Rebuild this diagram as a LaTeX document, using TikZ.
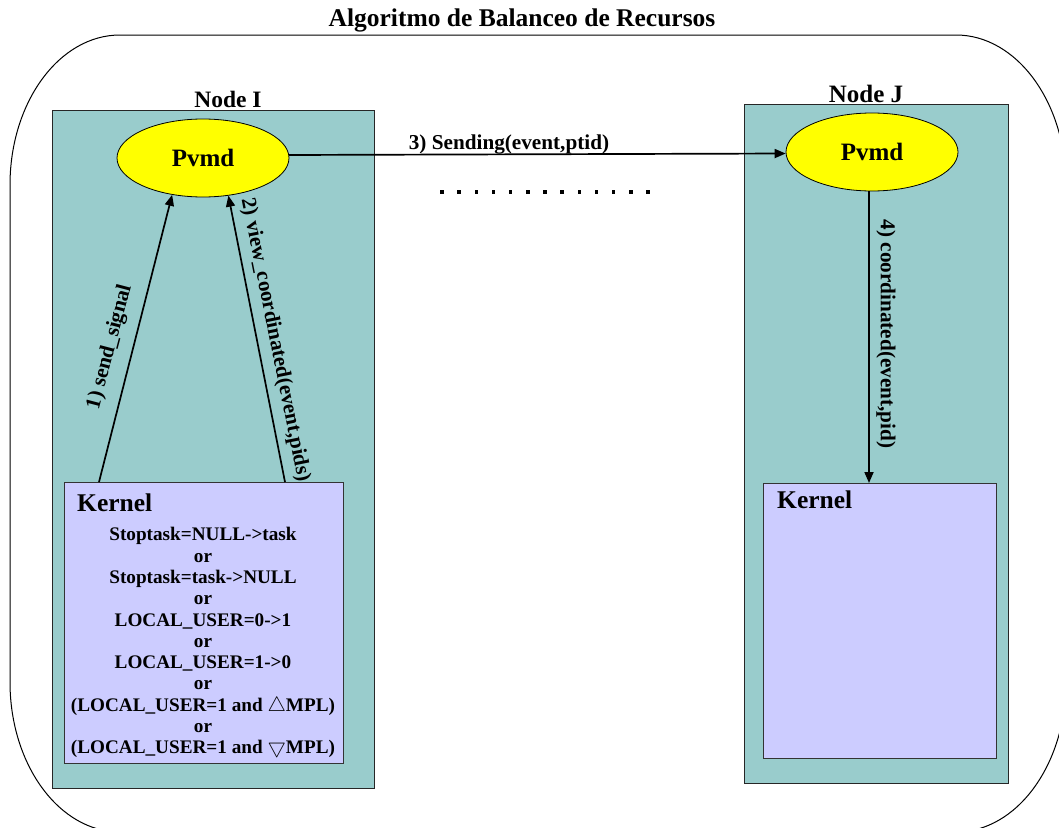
\documentclass[tikz,border=0pt]{standalone}
\usepackage{fontspec}
\setmainfont{Liberation Serif}
\usetikzlibrary{arrows.meta,shapes.geometric,calc}
\definecolor{tealbg}{RGB}{153,204,204}
\definecolor{kernbg}{RGB}{204,204,255}
\definecolor{pvmdfill}{RGB}{255,255,0}
\begin{document}
\begin{tikzpicture}[x=1pt,y=-1pt,
  nodebox/.style={draw=black!85, fill=tealbg, line width=0.9pt, inner sep=0pt, anchor=north west},
  kernbox/.style={draw=black!80, fill=kernbg, line width=0.9pt, inner sep=0pt, anchor=north west},
  pvmd/.style={ellipse, draw=black, fill=pvmdfill, line width=0.8pt, minimum width=172pt, minimum height=78pt, inner sep=0pt, font=\fontsize{25}{30}\selectfont\bfseries},
  arr/.style={line width=1.7pt, -{Triangle[length=11pt,width=9pt]}},
  lbl/.style={font=\fontsize{21.2}{25}\selectfont\bfseries, inner sep=0pt},
  head/.style={font=\fontsize{25.5}{30}\selectfont\bfseries, inner sep=0pt},
  ktext/.style={font=\fontsize{19.2}{21.3}\selectfont\bfseries, inner sep=0pt, align=center}
]
\useasboundingbox (0,0) rectangle (1059,827);
\fill[white] (0,0) rectangle (1059,827);
% outer rounded frame
\begin{scope}
\clip (0,0) rectangle (1059,827);
\draw[line width=1pt] (120,35) -- (956,35) .. controls (1016.7,35) and (1066,102.2) .. (1066,185)
  -- (1066,682) .. controls (1066,764.8) and (1016.7,832) .. (956,832)
  -- (120,832) .. controls (59.3,832) and (10,764.8) .. (10,682)
  -- (10,185) .. controls (10,102.2) and (59.3,35) .. (120,35) -- cycle;
\end{scope}
% title
\node[head, anchor=base] (title) at (522,27) {Algoritmo de Balanceo de Recursos};
% node boxes
\node[nodebox, minimum width=322pt, minimum height=678pt] (nodeI) at (52,110) {};
\node[nodebox, minimum width=264pt, minimum height=679pt] (nodeJ) at (744,104) {};
\node[head, anchor=base, font=\fontsize{23.5}{28}\selectfont\bfseries] (labI) at (228,107) {Node I};
\node[head, anchor=base, font=\fontsize{25}{30}\selectfont\bfseries] (labJ) at (866,102) {Node J};
% kernels
\node[kernbox, minimum width=279pt, minimum height=281pt] (kI) at (64,482) {};
\node[kernbox, minimum width=233pt, minimum height=275pt] (kJ) at (763,483) {};
\node[head, anchor=base west] (kIt) at (77,511) {Kernel};
\node[head, anchor=base west] (kJt) at (777,508) {Kernel};
\node[ktext, anchor=north] (kItext) at (203,527.3) {Stoptask=NULL->task\\ or\\ Stoptask=task->NULL\\ or\\ LOCAL\_USER=0->1\\ or\\ LOCAL\_USER=1->0\\ or\\ (LOCAL\_USER=1 and $\bigtriangleup$MPL)\\ or\\ (LOCAL\_USER=1 and $\bigtriangledown$MPL)};
% pvmd ellipses
\node[pvmd] (pvmdI) at (203,158) {Pvmd};
\node[pvmd] (pvmdJ) at (872,152) {Pvmd};
% connectors
\draw[arr] ($(kI.north west)+(35,0)$) -- (pvmdI.230);
\draw[arr] ($(kI.north west)+(221,0)$) -- (pvmdI.304);
\draw[arr] (pvmdI.2.5) -- (pvmdJ.181.5);
\draw[arr] ([xshift=-3pt]pvmdJ.south) -- ([xshift=-3pt]pvmdJ.south |- kJ.north);
% connector labels
\node[lbl, rotate=75.3] (l1) at (110,347) {1) send\_signal};
\node[lbl, rotate=-78.7] (l2) at (275,340) {2) view\_coordinated(event,pids)};
\node[lbl, anchor=base] (l3) at (509,149) {3) Sending(event,ptid)};
\node[lbl, rotate=-90] (l4) at (886,334) {4) coordinated(event,pid)};
% dots
\foreach \i in {0,...,12} \fill ({442+\i*17.17-1.75},190.25) rectangle ++(3.5,3.5);
\end{tikzpicture}
\end{document}
